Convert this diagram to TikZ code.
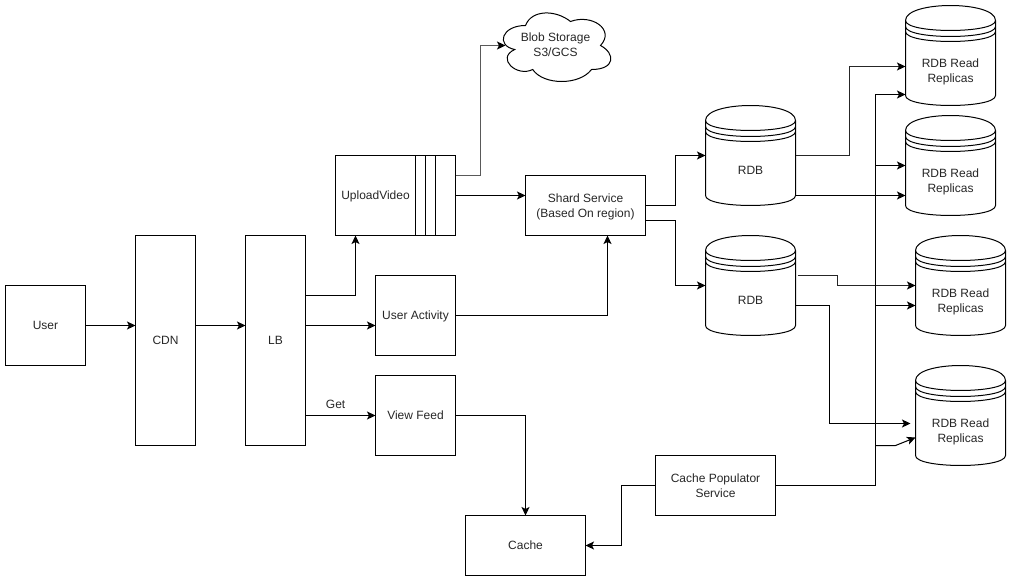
\documentclass[tikz,border=0pt]{standalone}
\usepackage{fontspec}
\setmainfont{Liberation Sans}
\usetikzlibrary{arrows.meta}
\newcommand{\dbshape}[1]{%
  \draw[shapeline,fill=white] ([xshift=-45pt,yshift=50pt]#1.center) ++(0,15)
    .. controls +(0,-20) and +(0,-20) .. ++(90,0)
    -- ++(0,75) .. controls +(0,13.3) and +(0,13.3) .. ++(-90,0) -- cycle;
  \draw[shapeline] ([xshift=-45pt,yshift=35pt]#1.center)
    .. controls +(0,13.3) and +(0,13.3) .. ++(90,0);
  \draw[shapeline] ([xshift=-45pt,yshift=29pt]#1.center)
    .. controls +(0,13.3) and +(0,13.3) .. ++(90,0);
  \draw[shapeline] ([xshift=-45pt,yshift=24pt]#1.center)
    .. controls +(0,13.3) and +(0,13.3) .. ++(90,0);
}
\tikzset{
  x=1pt,y=-1pt,
  shapeline/.style={line width=1pt,draw=black},
  box/.style={shapeline,rectangle,inner sep=0pt,outer sep=0pt,align=center,
    font=\fontsize{12}{15}\selectfont,text=black!85},
  boxlabel/.style={align=center,font=\fontsize{12}{15}\selectfont,text=black!85,inner sep=0pt},
  dbnode/.style={rectangle,inner sep=0pt,outer sep=0pt,minimum width=90pt,minimum height=100pt},
  dbtext/.style={align=center,font=\fontsize{12}{15}\selectfont,text=black!85,inner sep=0pt,yshift=-15pt},
  conn/.style={line width=1pt,draw=black,-{Stealth[length=8.5pt,width=8pt,inset=2pt]}},
  softconn/.style={line width=1.6pt,draw=black!65,-{Stealth[length=8.5pt,width=8pt,inset=2pt,color=black,fill=black]}},
  boldconn/.style={line width=1.4pt,draw=black!85,-{Stealth[length=8.5pt,width=8pt,inset=2pt,color=black,fill=black]}},
}
\begin{document}
\begin{tikzpicture}
\useasboundingbox (-0.5,-0.5) rectangle (1010.5,580.5);
% boxes
\node[box,draw,minimum width=80pt,minimum height=80pt] (user) at (45,325) {User};
\node[box,draw,minimum width=60pt,minimum height=210pt] (cdn) at (165,340) {CDN};
\node[box,draw,minimum width=60pt,minimum height=210pt] (lb) at (275,340) {LB};
\node[box,draw,minimum width=120pt,minimum height=80pt,label={[boxlabel,xshift=-20pt,yshift=-1pt]center:UploadVideo}] (up) at (395,195) {};
\draw[shapeline] ([xshift=20pt]up.north) -- ([xshift=20pt]up.south);
\draw[shapeline] ([xshift=30pt]up.north) -- ([xshift=30pt]up.south);
\draw[shapeline] ([xshift=40pt]up.north) -- ([xshift=40pt]up.south);
\node[box,draw,minimum width=80pt,minimum height=80pt,label={[boxlabel,yshift=-1pt]center:User Activity}] (ua) at (415,315) {};
\node[box,draw,minimum width=80pt,minimum height=80pt] (vf) at (415,415) {View Feed};
\node[box,draw,minimum width=120pt,minimum height=60pt,label={[boxlabel,yshift=-1pt]center:Shard Service\\(Based On region)}] (shard) at (585,205) {};
\node[box,draw,minimum width=120pt,minimum height=60pt] (cache) at (525,545) {Cache};
\node[box,draw,minimum width=120pt,minimum height=60pt] (pop) at (715,485) {Cache Populator\\Service};
% cloud
\node[box,draw=none,minimum width=120pt,minimum height=80pt] (blob) at (555,45) {};
\begin{scope}[shift={(blob.north west)},x=1.2pt,y=-0.8pt]
\draw[shapeline] (25,25) .. controls (5,25) and (0,50) .. (16,55)
  .. controls (0,66) and (18,90) .. (31,80)
  .. controls (40,100) and (70,100) .. (80,80)
  .. controls (100,80) and (100,60) .. (87.5,50)
  .. controls (100,30) and (80,10) .. (62.5,20)
  .. controls (50,5) and (30,5) .. (25,25) -- cycle;
\end{scope}
\node[box,draw=none,anchor=center,yshift=1pt] (blobtext) at (blob.center) {Blob Storage\\S3/GCS};
% databases
\node[dbnode] (rdba) at (750,155) {};
\node[dbnode] (rdbb) at (750,285) {};
\node[dbnode] (repa) at (950,55) {};
\node[dbnode] (repb) at (950,165) {};
\node[dbnode] (repc) at (960,285) {};
\node[dbnode] (repd) at (960,415) {};
\dbshape{rdba}\dbshape{rdbb}\dbshape{repa}\dbshape{repb}\dbshape{repc}\dbshape{repd}
\node[dbtext] (rdbat) at (rdba.center) {RDB};
\node[dbtext] (rdbbt) at (rdbb.center) {RDB};
\node[dbtext,yshift=-1.5pt] (repat) at (repa.center) {RDB Read\\Replicas};
\node[dbtext,yshift=-1.5pt] (repbt) at (repb.center) {RDB Read\\Replicas};
\node[dbtext,yshift=-1.5pt] (repct) at (repc.center) {RDB Read\\Replicas};
\node[dbtext,yshift=-1.5pt] (repdt) at (repd.center) {RDB Read\\Replicas};
% connectors
\draw[conn] (user.east) -- ([yshift=15pt]cdn.west);
\draw[conn] ([yshift=15pt]cdn.east) -- ([yshift=15pt]lb.west);
\draw[conn] ([yshift=45pt]lb.east) -| ([xshift=-40pt]up.south);
\draw[conn] ([yshift=15pt]lb.east) -- ([yshift=-10pt]ua.west);
\draw[conn] ([yshift=-75pt]lb.east) -- node[above=6pt,inner sep=0pt,font=\fontsize{12}{15}\selectfont,text=black!85,pos=0.43] {Get} (vf.west);
\draw[softconn] ([yshift=20pt]up.east) -- ++(25,0) |- ([xshift=10pt]blob.west);
\draw[conn] (up.east) -- ([yshift=10pt]shard.west);
\draw[conn] (ua.east) -| ([xshift=22pt]shard.south);
\draw[conn] (vf.east) -| (cache.north);
\draw[conn] (pop.west) -- ++(-34,0) |- (cache.east);
\draw[conn] (shard.east) -- ++(30,0) |- (rdba.west);
\draw[conn] ([yshift=-15pt]shard.east) -- ++(30,0) |- (rdbb.west);
\draw[boldconn] (rdba.east) -- ++(54,0) |- ([yshift=-11pt]repa.west);
\draw[conn] ([yshift=-40pt]rdba.east) -- ([yshift=-30pt]repb.west);
\draw[boldconn] ([xshift=2pt,yshift=10pt]rdbb.east) -- ++(40,0) |- (repc.west);
\draw[conn] ([yshift=-20pt]rdbb.east) -- ++(34,0) |- ([xshift=-5pt,yshift=-8pt]repd.west);
\draw[conn] (pop.east) -- ++(100,0) |- ([yshift=-39pt]repa.west);
\coordinate (tb) at (875,165);
\coordinate (tc) at (875,305);
\coordinate (td) at (875,445);
\coordinate (te) at (895,445);
\draw[conn] (tb) -- (repb.west);
\draw[conn] (tc) -- ([yshift=-20pt]repc.west);
\draw[conn] (td) -- (te) -- ([yshift=-22pt]repd.west);
\end{tikzpicture}
\end{document}
